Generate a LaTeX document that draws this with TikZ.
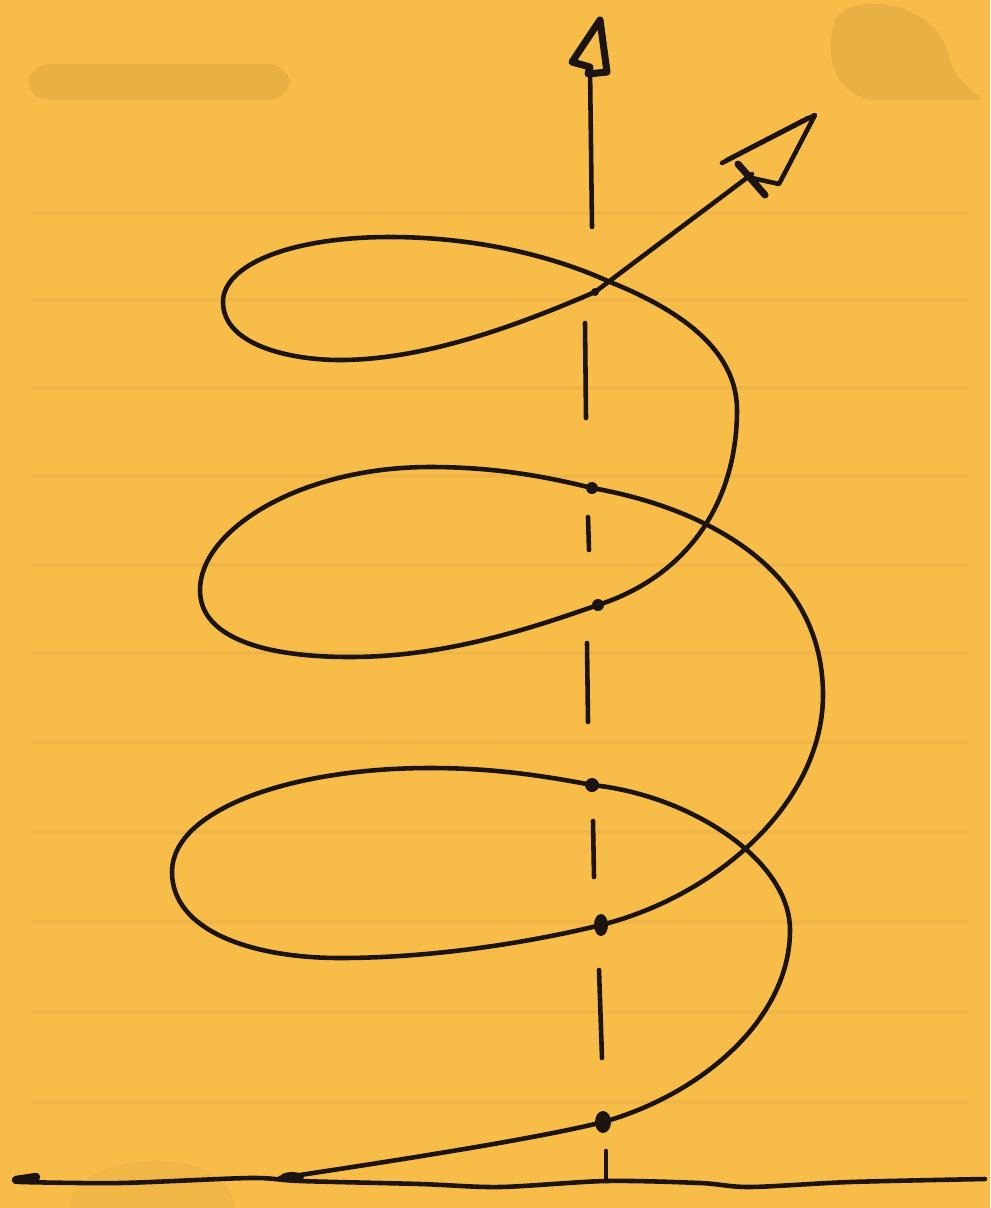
\documentclass[tikz,border=0pt]{standalone}
\definecolor{paperyellow}{RGB}{248,189,73}
\definecolor{ruleline}{RGB}{239,181,70}
\definecolor{ink}{RGB}{28,20,16}

\begin{document}
\begin{tikzpicture}[x=0.01cm,y=-0.01cm,
  paper/.style={fill=paperyellow},
  rule/.style={draw=ruleline,line width=1.2pt},
  smudge/.style={fill=black,opacity=0.06},
  pen/.style={draw=ink,line width=1.3pt,line cap=round,line join=round},
  dot/.style={fill=ink},
]
% sheet
\fill[paper] (0,0) rectangle (990,1208);
\useasboundingbox (0,0) rectangle (990,1208);
\foreach \y in {213,300,388,476,565,653,742,832,922,1012,1102}
  \draw[rule] (32,\y)--(968,\y);
\fill[smudge,rounded corners=6] (28,64) rectangle (290,100);
\fill[smudge] (835,20) .. controls (850,-10) and (940,0) .. (950,60) .. controls (960,90) and (985,95) .. (980,100) -- (870,100) .. controls (830,90) and (825,50) .. (835,20);
\fill[smudge,opacity=0.03] (70,1208) .. controls (70,1150) and (230,1140) .. (235,1208) -- cycle;

% axis points
\coordinate (top) at (595,292);
\coordinate (b1) at (592,488);
\coordinate (f1) at (598,605);
\coordinate (b2) at (592,785);
\coordinate (f2) at (601,925);
\coordinate (f3) at (603,1122);
\coordinate (foot) at (606,1181);
\coordinate (vtip) at (600,20);
\coordinate (vbase) at (590,67);
\coordinate (dtip) at (815,115);
\coordinate (dbase) at (752,174);

% ground line
\draw[pen] plot[smooth] coordinates {(20,1182) (120,1183) (250,1178) (300,1181)
  (420,1184) (500,1187) (606,1181) (700,1183) (750,1187) (850,1182) (985,1179)};
\draw[pen,line width=2.4pt] (16,1180)--(36,1177);

% the helix, bottom to top
\draw[pen] (280,1178) .. controls (400,1160) and (540,1138) .. (f3)
  .. controls (700,1095) and (790,1020) .. (790,930)
  .. controls (790,860) and (690,795) .. (b2)
  .. controls (540,775) and (490,768) .. (430,768)
  .. controls (290,768) and (172,810) .. (172,872)
  .. controls (172,930) and (250,958) .. (340,958)
  .. controls (440,958) and (540,940) .. (f2)
  .. controls (720,895) and (823,800) .. (823,695)
  .. controls (823,560) and (690,505) .. (b1)
  .. controls (540,475) and (490,467) .. (430,467)
  .. controls (300,467) and (200,530) .. (200,590)
  .. controls (200,640) and (270,657) .. (350,657)
  .. controls (450,657) and (540,625) .. (f1)
  .. controls (690,575) and (737,500) .. (737,410)
  .. controls (737,350) and (680,310) .. (610,282)
  .. controls (540,250) and (460,237) .. (390,237)
  .. controls (290,237) and (223,265) .. (223,302)
  .. controls (223,345) and (290,360) .. (340,360)
  .. controls (430,360) and (530,320) .. (top);
\fill[ink] (292,1177) ellipse (12 and 5);

% axis
\draw[pen] (592,227)--(vbase);
\foreach \ya/\yb/\xa/\xb in {323/418/585/586, 517/550/588/589, 643/722/587/588,
  821/877/593/594, 970/1058/599/602, 1151/1181/606/606}
  \draw[pen] (\xa,\ya)--(\xb,\yb);

% dots on the axis
\fill[dot] (b1) circle (6);
\fill[dot] (f1) circle (6);
\fill[dot] (b2) circle (7);
\fill[dot] (f2) ellipse (7 and 11);
\fill[dot] (f3) ellipse (8 and 11);
\fill[dot] (top) circle (4);

% arrows
\draw[pen,line width=2pt] (vbase)--(572,62)--(vtip)--(607,72)--(588,74)--(vbase);
\draw[pen] (top)--(dbase);
\draw[pen] (722,163)--(dtip)--(779,184)--(752,178);
\draw[pen] (727,160)--(808,118);
\draw[pen,line width=2pt] (738,164)--(765,195);
\end{tikzpicture}
\end{document}
